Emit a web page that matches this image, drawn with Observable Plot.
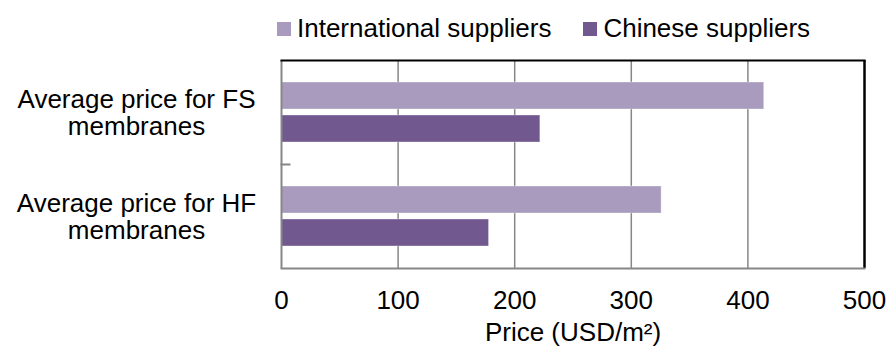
<!DOCTYPE html>
<html><head><meta charset="utf-8">
<script src="https://cdn.jsdelivr.net/npm/d3@7"></script>
<script src="https://cdn.jsdelivr.net/npm/@observablehq/plot@0.6"></script>
<style>
body{margin:0;background:#fff;}
#chart{position:relative;width:889px;height:350px;font-family:"Liberation Sans",Arial,sans-serif;}
#legend{position:absolute;left:277px;top:12px;}
.leg-swatches{font-family:"Liberation Sans",Arial,sans-serif !important;font-size:26px !important;color:#000 !important;margin:0 !important;}
.leg-swatches-wrap .leg-swatch{margin-right:32px !important;}
.leg-swatches .leg-swatch > svg{margin-right:6px !important;}
</style></head><body><div id="chart"><div id="legend"></div></div>
<script>
const categories = ["Average price for FS\nmembranes", "Average price for HF\nmembranes"];
const series = ["International suppliers", "Chinese suppliers"];
const international = [414, 326];
const chinese = [222, 178];
const xTicks = [0, 100, 200, 300, 400, 500];
const colors = ["#a99bbd", "#71588f"];
const axisTitle = "Price (USD/m²)";

const data = categories.flatMap((c, i) => [
  {category: c, series: series[0], value: international[i]},
  {category: c, series: series[1], value: chinese[i]}
]);

const font = '"Liberation Sans", Arial, sans-serif';

const chart = Plot.plot({
  width: 889, height: 350,
  marginLeft: 281, marginRight: 25, marginTop: 59, marginBottom: 82,
  style: {fontFamily: font, fontSize: "26px", color: "#000", background: "#fff"},
  x: {domain: [xTicks[0], xTicks[xTicks.length - 1]], axis: null},
  y: {domain: series, paddingInner: 0.176, paddingOuter: 0.625, axis: null},
  fy: {domain: categories, padding: 0, axis: null},
  color: {domain: series, range: colors},
  marks: [
    Plot.gridX(xTicks.slice(1, -1), {stroke: "#868686", strokeOpacity: 1, strokeWidth: 1.5}),
    Plot.barX(data, {x: "value", y: "series", fy: "category", fill: "series", stroke: "#fff", strokeOpacity: 0.35, strokeWidth: 1}),
    Plot.ruleX([xTicks[0]], {stroke: "#868686", strokeWidth: 2}),
    Plot.ruleX([xTicks[xTicks.length - 1]], {stroke: "#000", strokeWidth: 2.5}),
    Plot.frame({anchor: "top", stroke: "#000", strokeWidth: 2, facetAnchor: "top"}),
    Plot.frame({anchor: "bottom", stroke: "#868686", strokeWidth: 2, facetAnchor: "bottom"}),
    Plot.frame({anchor: "bottom", stroke: "#868686", strokeWidth: 2, facetAnchor: "top", insetRight: 575}),
    Plot.text(categories, {fy: d => d, text: d => d, frameAnchor: "left", dx: -145, textAnchor: "middle", lineHeight: 1.05, fontSize: 26, fill: "#000"}),
    Plot.axisX({ticks: xTicks, tickSize: 0, tickPadding: 22, fontSize: 26, label: axisTitle, labelAnchor: "center", labelArrow: "none", labelOffset: 72})
  ]
});
document.getElementById("chart").appendChild(chart);

const legend = Plot.legend({
  color: {domain: series, range: colors},
  legend: "swatches",
  swatchSize: 14,
  className: "leg",
  style: {fontSize: "26px", fontFamily: font, color: "#000"}
});
document.getElementById("legend").appendChild(legend);
</script>
</body></html>
